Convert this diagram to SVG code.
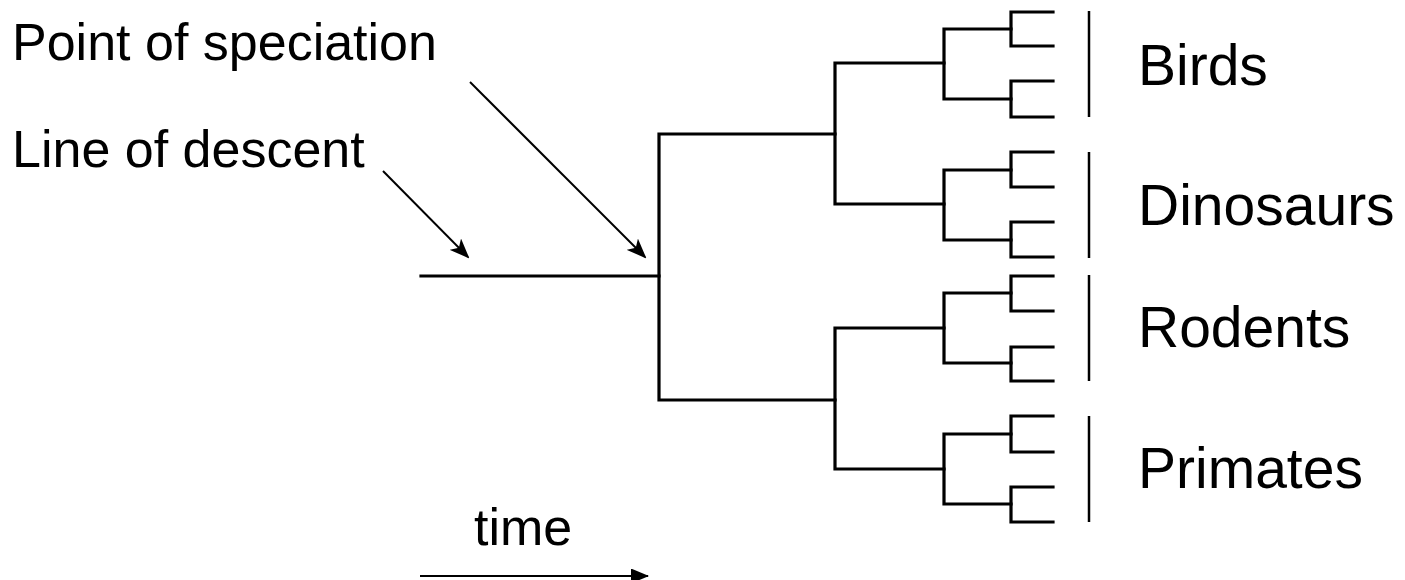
<svg xmlns="http://www.w3.org/2000/svg" width="1405" height="580" viewBox="0 0 1405 580">
  <style>
    .branch { fill: none; stroke: #000; stroke-width: 3.2; stroke-linecap: square; stroke-linejoin: miter; }
    .bar { stroke: #000; stroke-width: 2.5; }
    .pointer { stroke: #000; stroke-width: 2; fill: none; }
    .label { font-family: "Liberation Sans", Arial, sans-serif; font-size: 57px; fill: #000; }
    .note { font-family: "Liberation Sans", Arial, sans-serif; font-size: 52px; fill: #000; }
  </style>
  <defs>
    <marker id="barb" viewBox="0 0 20 16" refX="18" refY="8" markerWidth="20" markerHeight="16" markerUnits="userSpaceOnUse" orient="auto">
      <path d="M0,0 L20,8 L0,16 L5,8 Z" fill="#000"/>
    </marker>
    <marker id="tri" viewBox="0 0 18 15" refX="17" refY="7.5" markerWidth="18" markerHeight="15" markerUnits="userSpaceOnUse" orient="auto">
      <path d="M0,0 L18,7.5 L0,15 Z" fill="#000"/>
    </marker>
  </defs>

  <!-- phylogenetic tree -->
  <g id="connectors">
    <!-- root lineage and first split -->
    <path class="branch" d="M421,276 H659"/>
    <path class="branch" d="M835,134 H659 V400 H835"/>
    <!-- birds + dinosaurs clade -->
    <path class="branch" d="M944,63 H835 V204 H944"/>
    <path class="branch" d="M1011,29 H944 V99 H1011"/>
    <path class="branch" d="M1053,12 H1011 V46 H1053"/>
    <path class="branch" d="M1053,81 H1011 V117 H1053"/>
    <path class="branch" d="M1011,170 H944 V240 H1011"/>
    <path class="branch" d="M1053,152 H1011 V187 H1053"/>
    <path class="branch" d="M1053,222 H1011 V257 H1053"/>
    <!-- rodents + primates clade -->
    <path class="branch" d="M944,328 H835 V469 H944"/>
    <path class="branch" d="M1011,293 H944 V363 H1011"/>
    <path class="branch" d="M1053,276 H1011 V311 H1053"/>
    <path class="branch" d="M1053,347 H1011 V381 H1053"/>
    <path class="branch" d="M1011,434 H944 V504 H1011"/>
    <path class="branch" d="M1053,416 H1011 V452 H1053"/>
    <path class="branch" d="M1053,487 H1011 V522 H1053"/>

    <!-- group brackets -->
    <line class="bar" x1="1089" y1="11" x2="1089" y2="117"/>
    <line class="bar" x1="1089" y1="152" x2="1089" y2="258"/>
    <line class="bar" x1="1089" y1="275" x2="1089" y2="381"/>
    <line class="bar" x1="1089" y1="416" x2="1089" y2="522"/>

    <!-- annotation pointers -->
    <line class="pointer" x1="383" y1="171" x2="468" y2="257" marker-end="url(#barb)"/>
    <line class="pointer" x1="470" y1="82" x2="645" y2="257" marker-end="url(#barb)"/>

    <!-- time axis -->
    <line class="pointer" x1="420" y1="576" x2="648" y2="576" marker-end="url(#tri)"/>
  </g>

  <g id="label-birds"><text class="label" x="1138" y="85">Birds</text></g>
  <g id="label-dinosaurs"><text class="label" x="1138" y="225">Dinosaurs</text></g>
  <g id="label-rodents"><text class="label" x="1138" y="347">Rodents</text></g>
  <g id="label-primates"><text class="label" x="1138" y="488">Primates</text></g>

  <g id="note-speciation"><text class="note" x="12" y="60">Point of speciation</text></g>
  <g id="note-descent"><text class="note" x="12" y="167">Line of descent</text></g>
  <g id="note-time"><text class="note" x="474" y="545">time</text></g>
</svg>
